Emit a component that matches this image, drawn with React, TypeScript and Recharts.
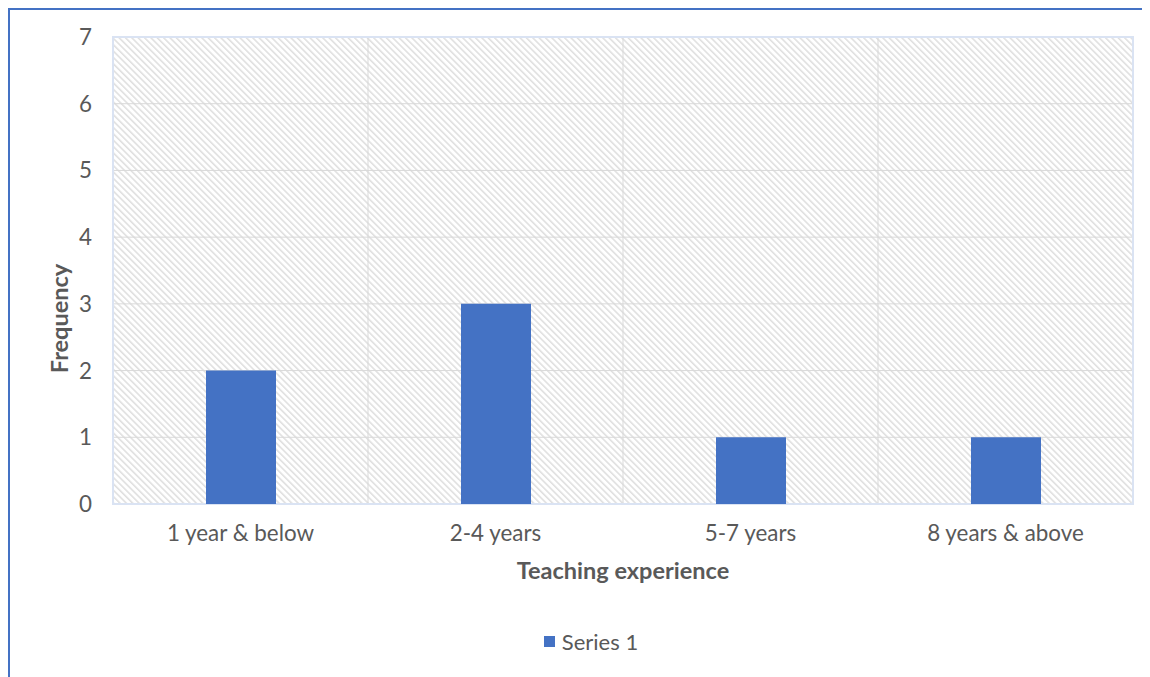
import {
  BarChart,
  Bar,
  XAxis,
  YAxis,
  CartesianGrid,
  ReferenceArea,
  Legend,
} from "recharts";

const categories = ["1 year & below", "2-4 years", "5-7 years", "8 years & above"];
const series1 = [2, 3, 1, 1];
const yTicks = [0, 1, 2, 3, 4, 5, 6, 7];

const data = categories.map((name, i) => ({ name, value: series1[i] }));

const FONT = "Lato, 'Open Sans', sans-serif";
const TEXT = "#595959";
const BLUE = "#4472C4";

function XTitle(props: any) {
  const vb = props.viewBox;
  return (
    <text
      x={vb.x + vb.width / 2}
      y={vb.y + 69}
      textAnchor="middle"
      dominantBaseline="middle"
      fontFamily={FONT}
      fontSize={23.5}
      fontWeight="bold"
      fill={TEXT}
    >
      Teaching experience
    </text>
  );
}

function YTitle(props: any) {
  const vb = props.viewBox;
  const cx = 52;
  const cy = vb.y + vb.height / 2 + 48;
  return (
    <text
      x={cx}
      y={cy}
      textAnchor="middle"
      dominantBaseline="middle"
      transform={`rotate(-90, ${cx}, ${cy})`}
      fontFamily={FONT}
      fontSize={23.5}
      fontWeight="bold"
      fill={TEXT}
    >
      Frequency
    </text>
  );
}

function LegendBox() {
  return (
    <div
      style={{
        height: 30,
        display: "flex",
        justifyContent: "center",
        alignItems: "center",
        paddingLeft: 39,
        fontFamily: FONT,
        fontSize: 22,
        color: TEXT,
      }}
    >
      <span
        style={{
          display: "inline-block",
          width: 11,
          height: 11,
          background: BLUE,
          marginRight: 7,
        }}
      />
      Series 1
    </div>
  );
}

export default function App() {
  return (
    <div
      style={{
        width: 1142,
        height: 669,
        borderTop: `2px solid ${BLUE}`,
        borderLeft: `2px solid ${BLUE}`,
        overflow: "hidden",
      }}
    >
      <svg width={0} height={0} style={{ position: "absolute" }}>
        <defs>
          <pattern
            id="hatch"
            width={4.5}
            height={4.5}
            patternUnits="userSpaceOnUse"
            patternTransform="rotate(45)"
          >
            <rect width={4.5} height={4.5} fill="#ffffff" />
            <line x1={0} y1={1} x2={4.5} y2={1} stroke="#d9d9d9" strokeWidth={1.3} />
          </pattern>
        </defs>
      </svg>
      <BarChart
        width={1140}
        height={667}
        data={data}
        margin={{ top: 27, right: 17, left: 0, bottom: 21 }}
      >
        <CartesianGrid
          stroke="#d9d9d9"
          fill="url(#hatch)"
          fillOpacity={1}
          verticalCoordinatesGenerator={({ offset }: any) =>
            categories.slice(1).map((_, i) => offset.left + ((i + 1) * offset.width) / categories.length)
          }
        />
        <XAxis
          dataKey="name"
          axisLine={false}
          tickLine={false}
          tickSize={0}
          tickMargin={21}
          height={122}
          interval={0}
          tick={{ fontFamily: FONT, fontSize: 22.4, fill: TEXT }}
          label={<XTitle />}
        />
        <YAxis
          domain={[0, 7]}
          ticks={yTicks}
          axisLine={false}
          tickLine={false}
          tickSize={0}
          tickMargin={21}
          width={103}
          tick={{ fontFamily: FONT, fontSize: 22.4, fill: TEXT }}
          label={<YTitle />}
        />
        <ReferenceArea y1={0} y2={7} fill="none" stroke="#dae3f3" strokeWidth={2} />
        <Legend verticalAlign="bottom" content={() => <LegendBox />} />
        <Bar dataKey="value" name="Series 1" fill={BLUE} barSize={70} isAnimationActive={false} />
      </BarChart>
    </div>
  );
}
